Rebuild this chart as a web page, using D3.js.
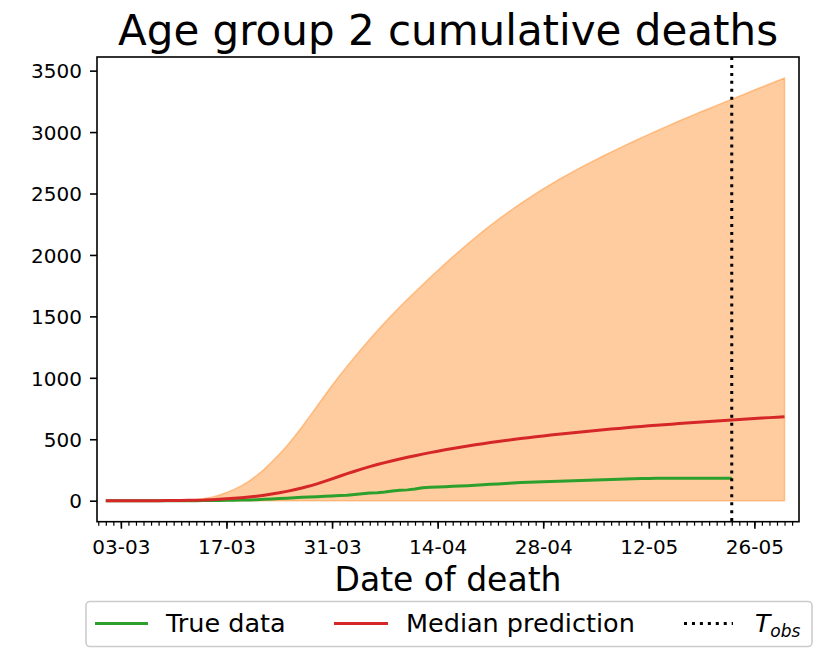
<!DOCTYPE html>
<html>
<head>
<meta charset="utf-8">
<script src="https://cdn.jsdelivr.net/npm/d3@7"></script>
<style>
  html, body { margin: 0; padding: 0; background: #fff; }
  svg { display: block; font-family: "DejaVu Sans", sans-serif; }
</style>
</head>
<body>
<svg id="chart" width="830" height="649"></svg>
<script>
// ---- data (daily, 01-03-2020 .. 30-05-2020) ----
const startDate = "2020-03-01";
const endDate = "2020-05-30";
const obsDate = "2020-05-23";

const upperBound = [
  0, 0, 0, 0, 0, 0, 1, 1, 2, 3,
  4, 6, 10, 17, 29, 45, 66, 92, 122, 160,
  205, 255, 315, 378, 445, 520, 600, 684, 769, 854,
  938, 1018, 1095, 1170, 1243, 1314, 1383, 1450, 1515, 1578,
  1639, 1699, 1758, 1816, 1873, 1929, 1984, 2038, 2091, 2142,
  2192, 2240, 2287, 2332, 2376, 2418, 2459, 2499, 2538, 2575,
  2611, 2646, 2680, 2713, 2745, 2776, 2807, 2837, 2867, 2896,
  2925, 2953, 2981, 3009, 3036, 3063, 3090, 3116, 3142, 3167,
  3192, 3217, 3242, 3267, 3292, 3317, 3342, 3367, 3391, 3416,
  3440
];
const lowerBound = [
  0, 0, 0, 0, 0, 0, 0, 0, 0, 0,
  0, 0, 0, 0, 0, 0, 0, 0, 0, 0,
  0, 0, 0, 0, 0, 0, 0, 0, 0, 0,
  0, 0, 0, 0, 0, 0, 0, 0, 0, 0,
  0, 0, 0, 0, 0, 0, 0, 0, 0, 0,
  0, 0, 0, 0, 0, 0, 0, 0, 0, 0,
  0, 0, 0, 0, 0, 0, 0, 0, 0, 0,
  0, 0, 0, 0, 0, 0, 0, 0, 0, 0,
  0, 0, 0, 0, 0, 0, 0, 0, 0, 0,
  0
];
const medianPrediction = [
  0, 0, 0, 0, 0, 0, 0, 0, 1, 1,
  2, 3, 4, 5, 8, 11, 15, 19, 24, 30,
  37, 45, 54, 64, 76, 89, 103, 119, 137, 157,
  178, 199, 220, 240, 259, 277, 294, 310, 325, 339,
  353, 366, 379, 391, 403, 414, 425, 435, 445, 455,
  464, 473, 482, 490, 498, 506, 513, 520, 527, 534,
  541, 547, 553, 559, 565, 571, 577, 583, 588, 594,
  599, 604, 609, 614, 619, 623, 628, 632, 636, 640,
  644, 648, 652, 656, 660, 664, 668, 672, 676, 680,
  684
];
// true data until T_obs (01-03 .. 23-05)
const trueData = [
  0, 0, 0, 0, 0, 0, 0, 0, 0, 0,
  0, 0, 0, 1, 1, 2, 3, 4, 5, 6,
  8, 11, 14, 17, 20, 23, 27, 30, 33, 36,
  39, 42, 45, 50, 56, 62, 64, 70, 78, 85,
  88, 95, 106, 110, 112, 114, 117, 119, 122, 126,
  130, 133, 136, 140, 144, 148, 151, 152, 154, 156,
  158, 161, 163, 165, 167, 168, 170, 172, 174, 176,
  178, 180, 181, 182, 182, 182, 183, 183, 183, 183,
  183, 183, 183, 183
];
const xTickLabels = ["03-03", "17-03", "31-03", "14-04", "28-04", "12-05", "26-05"];
const yTickValues = [0, 500, 1000, 1500, 2000, 2500, 3000, 3500];

// ---- layout ----
const L = 97, R = 799, T = 57, B = 521.7;
const svg = d3.select("#chart");

const parse = d3.utcParse("%Y-%m-%d");
const dates = d3.utcDay.range(parse(startDate), d3.utcDay.offset(parse(endDate), 1));
const tickParse = s => parse("2020-" + s.slice(3, 5) + "-" + s.slice(0, 2));

const x = d3.scaleUtc()
  .domain([d3.utcHour.offset(parse("2020-03-03"), -3.14 * 24),
           d3.utcHour.offset(parse("2020-03-03"), 89.93 * 24)])
  .range([L, R]);
const y = d3.scaleLinear().domain([-171, 3611]).range([B, T]);

// band
const bandData = dates.map((d, i) => ({ d, lo: lowerBound[i], hi: upperBound[i] }));
const area = d3.area().x(p => x(p.d)).y0(p => y(p.lo)).y1(p => y(p.hi));
svg.append("path").datum(bandData)
  .attr("d", area)
  .attr("fill", "#ff7f0e").attr("fill-opacity", 0.4)
  .attr("stroke", "#ff7f0e").attr("stroke-opacity", 0.4).attr("stroke-width", 1.5);

const line = d3.line().x(p => x(p.d)).y(p => y(p.v));
// true data
svg.append("path")
  .datum(trueData.map((v, i) => ({ d: dates[i], v })))
  .attr("d", line).attr("fill", "none")
  .attr("stroke", "#2ca02c").attr("stroke-width", 3).attr("stroke-linejoin", "round");
// median
svg.append("path")
  .datum(medianPrediction.map((v, i) => ({ d: dates[i], v })))
  .attr("d", line).attr("fill", "none")
  .attr("stroke", "#d62728").attr("stroke-width", 3).attr("stroke-linejoin", "round");

// T_obs
svg.append("line")
  .attr("x1", x(parse(obsDate))).attr("x2", x(parse(obsDate)))
  .attr("y1", T).attr("y2", B)
  .attr("stroke", "#000").attr("stroke-width", 3)
  .attr("stroke-dasharray", "3,4.95");

// axes
const xAxisMinor = d3.axisBottom(x)
  .tickValues(d3.utcDay.range(x.domain()[0], x.domain()[1]))
  .tickSize(4).tickFormat("");
svg.append("g").attr("transform", `translate(0,${B})`).call(xAxisMinor)
  .call(g => g.select(".domain").remove())
  .call(g => g.selectAll("line").attr("stroke-width", 1.2));

const xAxis = d3.axisBottom(x)
  .tickValues(xTickLabels.map(tickParse))
  .tickSize(7).tickFormat(d3.utcFormat("%d-%m"));
svg.append("g").attr("transform", `translate(0,${B})`).call(xAxis)
  .call(g => g.select(".domain").remove())
  .call(g => g.selectAll("line").attr("stroke-width", 1.6))
  .call(g => g.selectAll("text").attr("y", 32.2).attr("dy", 0)
    .attr("font-size", 20).attr("font-family", "DejaVu Sans").attr("fill", "#000"));

const yAxis = d3.axisLeft(y).tickValues(yTickValues).tickSize(7).tickPadding(8)
  .tickFormat(d3.format("d"));
svg.append("g").attr("transform", `translate(${L},0)`).call(yAxis)
  .call(g => g.select(".domain").remove())
  .call(g => g.selectAll("line").attr("stroke-width", 1.6))
  .call(g => g.selectAll("text").attr("font-size", 20)
    .attr("font-family", "DejaVu Sans").attr("fill", "#000").attr("dy", "0.36em"));

// frame
svg.append("rect").attr("x", L).attr("y", T).attr("width", R - L).attr("height", B - T)
  .attr("fill", "none").attr("stroke", "#000").attr("stroke-width", 1.6);

// title & labels
svg.append("text").attr("x", (L + R) / 2).attr("y", 45)
  .attr("text-anchor", "middle").attr("font-size", 42)
  .text("Age group 2 cumulative deaths");
svg.append("text").attr("x", (L + R) / 2).attr("y", 591)
  .attr("text-anchor", "middle").attr("font-size", 33)
  .text("Date of death");

// legend
const lg = svg.append("g");
lg.append("rect").attr("x", 86).attr("y", 601.5).attr("width", 726).attr("height", 45)
  .attr("rx", 4).attr("fill", "#fff").attr("fill-opacity", 0.8)
  .attr("stroke", "#cccccc").attr("stroke-width", 1.6);
const legendItems = [
  { x1: 95, x2: 148, tx: 166, label: "True data", color: "#2ca02c", dash: null },
  { x1: 334, x2: 388, tx: 406, label: "Median prediction", color: "#d62728", dash: null },
  { x1: 684, x2: 733, tx: 755, label: null, color: "#000", dash: "3,4.95" }
];
legendItems.forEach(it => {
  lg.append("line").attr("x1", it.x1).attr("x2", it.x2).attr("y1", 623.5).attr("y2", 623.5)
    .attr("stroke", it.color).attr("stroke-width", 3)
    .attr("stroke-dasharray", it.dash);
  if (it.label) {
    lg.append("text").attr("x", it.tx).attr("y", 632).attr("font-size", 25.5).text(it.label);
  } else {
    const t = lg.append("text").attr("x", it.tx).attr("y", 632).attr("font-size", 25)
      .attr("font-style", "italic");
    t.append("tspan").text("T");
    t.append("tspan").attr("font-size", 17).attr("dy", 5).text("obs");
  }
});
</script>
</body>
</html>
